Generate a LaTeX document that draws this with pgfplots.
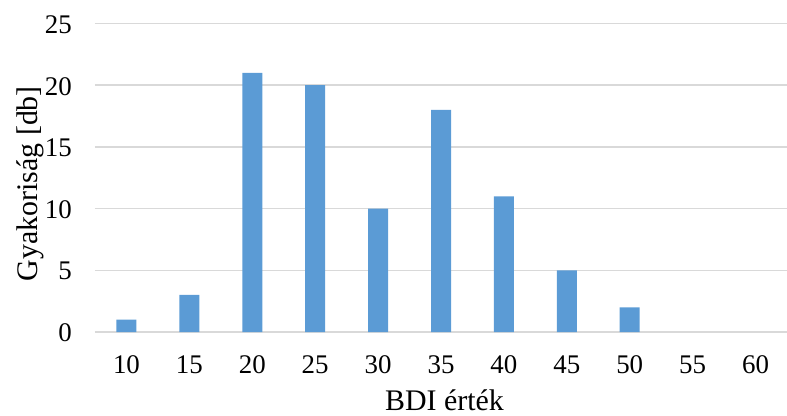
\documentclass[border=0pt]{standalone}
\usepackage{pgfplots}
\pgfplotsset{compat=1.18}
\usepackage{fontspec}
\setmainfont{Liberation Serif}
\definecolor{barblue}{HTML}{5B9BD5}
\definecolor{gridgray}{HTML}{D9D9D9}

\pgfplotstableread{
idx bdi freq
0 10 1
1 15 3
2 20 21
3 25 20
4 30 10
5 35 18
6 40 11
7 45 5
8 50 2
9 55 0
10 60 0
}\bditable

\begin{document}
\begin{tikzpicture}
\useasboundingbox (-95bp,-84bp) rectangle (692bp,332bp);
\begin{axis}[
  at={(0,0)}, anchor=south west,
  scale only axis,
  width=692bp, height=308.5bp,
  xmin=-0.5, xmax=10.5,
  ymin=0, ymax=25,
  ytick={0,5,...,25},
  xtick={0,...,10},
  xticklabels={10,15,20,25,30,35,40,45,50,55,60},
  axis line style={draw=none},
  axis x line*=bottom,
  x axis line style={draw=gridgray, line width=1.5pt},
  ymajorgrids,
  grid style={gridgray, line width=1.5pt},
  major tick length=0pt,
  /pgf/number format/assume math mode=true,
  yticklabel style={anchor=east, inner sep=0pt, xshift=-23bp, yshift=-1bp,
    font=\fontsize{27}{27}\selectfont},
  xticklabel style={anchor=base, inner sep=0pt, yshift=-41bp,
    font=\fontsize{27}{27}\selectfont},
  xlabel={BDI érték},
  ylabel={Gyakoriság [db]},
  every axis x label/.style={at={(axis description cs:0.505,-0.256)}, anchor=base,
    inner sep=0pt, font=\fontsize{30}{30}\selectfont},
  every axis y label/.style={at={(axis description cs:-0.094,0.481)}, rotate=90, anchor=center,
    inner sep=0pt, font=\fontsize{30}{30}\selectfont},
  clip=false,
]
\addplot[ybar, bar width=20bp, fill=barblue, draw=none,
  restrict y to domain=0.5:100] table[x=idx, y=freq] {\bditable};
\end{axis}
\end{tikzpicture}
\end{document}
